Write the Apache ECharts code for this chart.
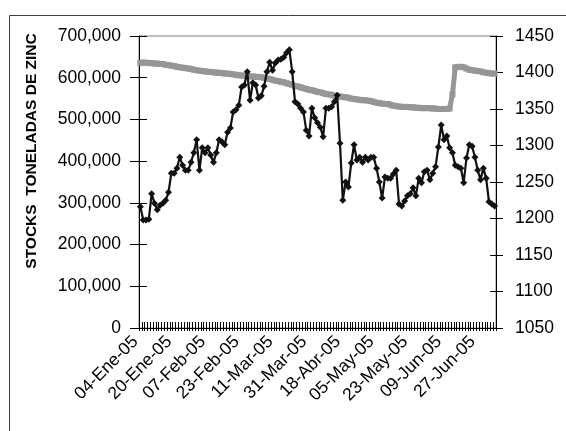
<!DOCTYPE html>
<html>
<head>
<meta charset="utf-8">
<script src="https://cdn.jsdelivr.net/npm/echarts@6/dist/echarts.min.js"></script>
<style>
html,body{margin:0;padding:0;background:#fff;}
#chart{width:566px;height:431px;}
</style>
</head>
<body>
<div id="chart"></div>
<script>
const categories = [
'04-Ene-05','05-Ene-05','06-Ene-05','07-Ene-05','10-Ene-05','11-Ene-05','12-Ene-05','13-Ene-05','14-Ene-05','17-Ene-05',
'18-Ene-05','19-Ene-05','20-Ene-05','21-Ene-05','24-Ene-05','25-Ene-05','26-Ene-05','27-Ene-05','28-Ene-05','31-Ene-05',
'01-Feb-05','02-Feb-05','03-Feb-05','04-Feb-05','07-Feb-05','08-Feb-05','09-Feb-05','10-Feb-05','11-Feb-05','14-Feb-05',
'15-Feb-05','16-Feb-05','17-Feb-05','18-Feb-05','21-Feb-05','22-Feb-05','23-Feb-05','24-Feb-05','25-Feb-05','28-Feb-05',
'01-Mar-05','02-Mar-05','03-Mar-05','04-Mar-05','07-Mar-05','08-Mar-05','09-Mar-05','10-Mar-05','11-Mar-05','14-Mar-05',
'15-Mar-05','16-Mar-05','17-Mar-05','18-Mar-05','21-Mar-05','22-Mar-05','23-Mar-05','24-Mar-05','29-Mar-05','30-Mar-05',
'31-Mar-05','01-Abr-05','04-Abr-05','05-Abr-05','06-Abr-05','07-Abr-05','08-Abr-05','11-Abr-05','12-Abr-05','13-Abr-05',
'14-Abr-05','15-Abr-05','18-Abr-05','19-Abr-05','20-Abr-05','21-Abr-05','22-Abr-05','25-Abr-05','26-Abr-05','27-Abr-05',
'28-Abr-05','29-Abr-05','03-May-05','04-May-05','05-May-05','06-May-05','09-May-05','10-May-05','11-May-05','12-May-05',
'13-May-05','16-May-05','17-May-05','18-May-05','19-May-05','20-May-05','23-May-05','24-May-05','25-May-05','26-May-05',
'27-May-05','31-May-05','01-Jun-05','02-Jun-05','03-Jun-05','06-Jun-05','07-Jun-05','08-Jun-05','09-Jun-05','10-Jun-05',
'13-Jun-05','14-Jun-05','15-Jun-05','16-Jun-05','17-Jun-05','20-Jun-05','21-Jun-05','22-Jun-05','23-Jun-05','24-Jun-05',
'27-Jun-05','28-Jun-05','29-Jun-05','30-Jun-05','01-Jul-05','04-Jul-05','05-Jul-05'
];

// Zinc stocks (tonnes) - left axis
const stocks = [
636000,636000,636000,635000,635000,634000,634000,633000,633000,631000,
630000,629000,628000,626000,625000,624000,623000,622000,621000,619000,
618000,617000,616000,615000,614000,614000,613000,612000,612000,611000,
610000,610000,609000,608000,607000,606000,605000,605000,604000,603000,
603000,602000,602000,601000,600000,598000,597000,595000,593000,592000,
590000,589000,587000,585000,583000,580000,579000,577000,575000,573000,
571000,570000,568000,566000,565000,563000,561000,560000,559000,557000,
556000,555000,554000,553000,552000,550000,549000,548000,547000,546000,
546000,545000,544000,542000,540000,539000,538000,537000,537000,535000,
533000,532000,531000,530000,530000,530000,529000,529000,528000,528000,
527000,527000,527000,527000,526000,526000,525000,525000,525000,525000,
526000,560000,625000,626000,626000,625000,622000,619000,618000,617000,
616000,615000,613000,612000,611000,610000,610000
];

// Zinc price - right axis
const price = [
1216,1198,1198,1199,1234,1221,1212,1218,1221,1225,
1236,1262,1262,1269,1284,1273,1266,1266,1277,1290,
1308,1266,1297,1290,1297,1287,1277,1290,1308,1305,
1301,1318,1324,1346,1349,1355,1380,1383,1401,1362,
1386,1383,1365,1368,1381,1401,1414,1403,1413,1417,
1418,1421,1427,1431,1401,1360,1357,1351,1346,1321,
1313,1351,1338,1331,1325,1312,1351,1351,1353,1360,
1369,1303,1225,1250,1243,1276,1301,1280,1284,1277,
1284,1280,1284,1284,1269,1250,1228,1257,1255,1255,
1261,1266,1220,1217,1224,1231,1234,1242,1231,1255,
1249,1264,1266,1253,1262,1271,1298,1328,1308,1313,
1297,1290,1273,1271,1269,1249,1283,1301,1299,1284,
1266,1253,1269,1255,1223,1220,1217
];

const leftTicks = { min: 0, max: 700000, interval: 100000 };
const rightTicks = { min: 1050, max: 1450, interval: 50 };
const axisTitle = 'STOCKS  TONELADAS DE ZINC';

const FONT = '"Liberation Sans", Arial, sans-serif';
const FS = 17.5;
const chart = echarts.init(document.getElementById('chart'), null, { renderer: 'canvas' });

const lineBlack = { show: true, lineStyle: { color: '#000', width: 1 } };

const option = {
  animation: false,
  backgroundColor: '#fff',
  graphic: [
    { type: 'rect', left: 7, top: 13, shape: { width: 700, height: 600 }, style: { fill: 'none', stroke: '#404040', lineWidth: 1 }, silent: true },
    { type: 'text', x: 32, y: 151, rotation: Math.PI / 2,
      style: { text: axisTitle, font: 'bold 15.5px ' + FONT, fill: '#000', textAlign: 'center', textVerticalAlign: 'middle' } }
  ],
  grid: { left: 139, right: 70, top: 36, bottom: 103, show: true, borderColor: '#808080', borderWidth: 1, backgroundColor: 'transparent' },
  xAxis: [
    { type: 'category', data: categories, boundaryGap: true, position: 'bottom',
      axisLine: lineBlack,
      axisTick: { show: true, interval: 0, length: 3, lineStyle: { color: '#000' } },
      axisLabel: { interval: 11, rotate: 45, margin: 6, padding: [0, 7, 0, 0], color: '#000', fontSize: FS, fontFamily: FONT },
      splitLine: { show: false } },
    { type: 'category', data: categories, boundaryGap: true, position: 'bottom',
      axisLine: { show: false },
      axisTick: { show: true, inside: true, interval: 0, length: 6, lineStyle: { color: '#000' } },
      axisLabel: { show: false }, splitLine: { show: false } }
  ],
  yAxis: [
    { type: 'value', position: 'left', min: leftTicks.min, max: leftTicks.max, interval: leftTicks.interval,
      axisLine: lineBlack,
      axisTick: { show: true, length: 9, lineStyle: { color: '#000' } },
      axisLabel: { margin: 18, color: '#000', fontSize: FS, fontFamily: FONT,
        formatter: v => v.toLocaleString('en-US') },
      splitLine: { show: false } },
    { type: 'value', position: 'right', min: rightTicks.min, max: rightTicks.max, interval: rightTicks.interval,
      axisLine: lineBlack,
      axisTick: { show: true, length: 7, lineStyle: { color: '#000' } },
      axisLabel: { margin: 19, color: '#000', fontSize: FS, fontFamily: FONT, formatter: v => String(v) },
      splitLine: { show: false } },
    { type: 'value', position: 'left', min: leftTicks.min, max: leftTicks.max, interval: leftTicks.interval,
      axisLine: { show: false }, axisTick: { show: true, inside: true, length: 8, lineStyle: { color: '#000' } },
      axisLabel: { show: false }, splitLine: { show: false } },
    { type: 'value', position: 'right', min: rightTicks.min, max: rightTicks.max, interval: rightTicks.interval,
      axisLine: { show: false }, axisTick: { show: true, inside: true, length: 6, lineStyle: { color: '#000' } },
      axisLabel: { show: false }, splitLine: { show: false } }
  ],
  series: [
    { name: 'Stocks', type: 'line', xAxisIndex: 0, yAxisIndex: 0, data: stocks,
      symbol: 'rect', symbolSize: 6, showAllSymbol: true,
      lineStyle: { color: '#969696', width: 5 }, itemStyle: { color: '#969696' }, z: 2 },
    { name: 'Precio', type: 'line', xAxisIndex: 0, yAxisIndex: 1, data: price,
      symbol: 'diamond', symbolSize: 7, showAllSymbol: true,
      lineStyle: { color: '#111', width: 2.2 }, itemStyle: { color: '#111' }, z: 3 }
  ]
};
chart.setOption(option);
</script>
</body>
</html>
